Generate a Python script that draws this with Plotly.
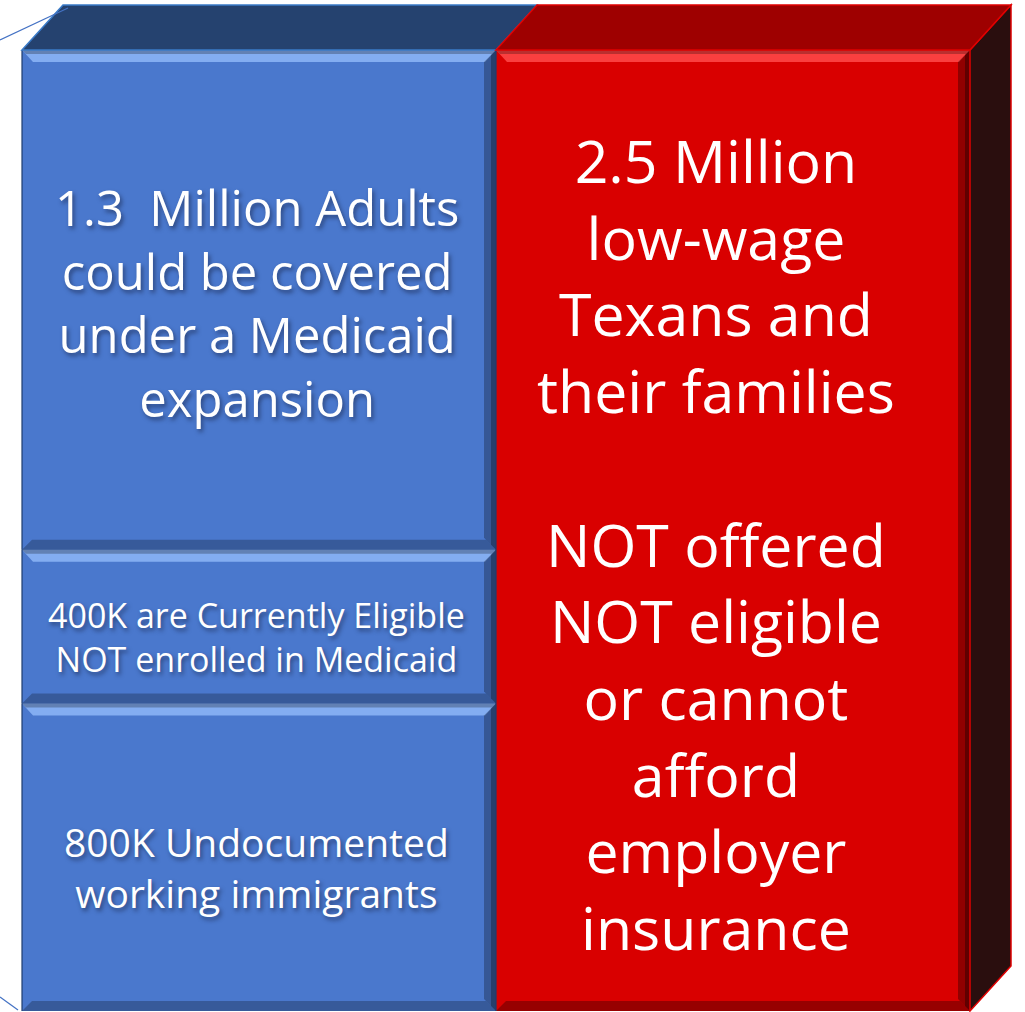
import plotly.graph_objects as go

# Texas uninsured workers: blue stack breaks down the 2.5 million total
categories = [0, 1]
blue_labels = [
    "800K Undocumented<br>working immigrants",
    "400K are Currently Eligible<br>NOT enrolled in Medicaid",
    "1.3  Million Adults<br>could be covered<br>under a Medicaid<br>expansion",
]
blue_values = [0.8, 0.4, 1.3]          # millions
red_label = ("2.5 Million<br>low-wage<br>Texans and<br>their families<br><br>"
             "NOT offered<br>NOT eligible<br>or cannot<br>afford<br>employer<br>insurance")
red_values = [2.5]                      # millions

# ---- page geometry (pixels) ----
W, H = 1025, 1012
PX_X = 474.0            # pixels per category unit
PX_Y = 384.4            # pixels per million
LEFT_PX = 22            # pixel of x = -0.5
BASE_PX = 1011          # pixel of y = 0
x_range = [-0.5 - LEFT_PX / PX_X, -0.5 + (W - LEFT_PX) / PX_X]
y_range = [-(H - BASE_PX) / PX_Y, BASE_PX / PX_Y]

DX = 41 / PX_X          # 3D depth offsets
DY = 45 / PX_Y


def px_x(p):
    return p / PX_X


def px_y(p):
    return p / PX_Y


BLUE = "#4A78CD"
BLUE_TOP = "#25426F"
BLUE_HI = "#8DB6F7"
RED = "#D90000"
RED_TOP = "#9E0000"
RED_SIDE = "#2A0E0E"
RED_HI = "#FF4A4A"

FONT = "Open Sans"

fig = go.Figure()

for v, lab in zip(blue_values, blue_labels):
    fig.add_trace(go.Bar(x=[categories[0]], y=[v], width=1, marker=dict(color=BLUE, line=dict(width=0)),
                         hoverinfo="skip", showlegend=False))
fig.add_trace(go.Bar(x=[categories[1]], y=red_values, width=1, marker=dict(color=RED, line=dict(width=0)),
                     hoverinfo="skip", showlegend=False))

shapes = []


def bevel(xc, y0, y1, hi, dark_alpha=0.45):
    """Beveled edges of one box face: light top strip, dark right and bottom strips."""
    xl, xr = xc - 0.5, xc + 0.5
    t = px_y(12)
    ins = px_x(11)
    # top highlight
    shapes.append(dict(type="path", xref="x", yref="y", layer="above",
                       path=f"M {xl},{y1} L {xr},{y1} L {xr - ins},{y1 - t} L {xl + ins},{y1 - t} Z",
                       fillcolor=hi, opacity=0.85, line=dict(width=0)))
    shapes.append(dict(type="path", xref="x", yref="y", layer="above",
                       path=f"M {xl},{y1} L {xr},{y1} L {xr - px_x(4)},{y1 - px_y(4)} L {xl + px_x(4)},{y1 - px_y(4)} Z",
                       fillcolor="rgba(0,0,0,0.25)", line=dict(width=0)))
    # right shade
    shapes.append(dict(type="path", xref="x", yref="y", layer="above",
                       path=f"M {xr},{y1} L {xr},{y0} L {xr - px_x(12)},{y0 + px_y(12)} L {xr - px_x(12)},{y1 - px_y(12)} Z",
                       fillcolor=f"rgba(0,0,0,{dark_alpha * 0.6})", line=dict(width=0)))
    shapes.append(dict(type="path", xref="x", yref="y", layer="above",
                       path=f"M {xr},{y1} L {xr},{y0} L {xr - px_x(5)},{y0 + px_y(5)} L {xr - px_x(5)},{y1 - px_y(5)} Z",
                       fillcolor=f"rgba(0,0,0,{dark_alpha * 0.6})", line=dict(width=0)))
    # bottom shade
    shapes.append(dict(type="path", xref="x", yref="y", layer="above",
                       path=f"M {xl},{y0} L {xr},{y0} L {xr - px_x(10)},{y0 + px_y(10)} L {xl + px_x(10)},{y0 + px_y(10)} Z",
                       fillcolor=f"rgba(0,0,0,{dark_alpha * 0.55})", line=dict(width=0)))
    # left edge
    shapes.append(dict(type="line", xref="x", yref="y", layer="above",
                       x0=xl, x1=xl, y0=y0, y1=y1, line=dict(color="rgba(30,60,110,0.6)", width=2)))


# blue stack bevels
base = 0.0
for v in blue_values:
    bevel(categories[0], base, base + v, BLUE_HI)
    base += v
blue_total = base
red_total = sum(red_values)
bevel(categories[1], 0.0, red_total, RED_HI, dark_alpha=0.55)

# 3D top of the blue stack
xb = categories[0]
shapes.append(dict(type="path", xref="x", yref="y", layer="above",
                   path=f"M {xb - 0.5},{blue_total} L {xb - 0.5 + DX},{blue_total + DY} "
                        f"L {xb + 0.5 + DX},{blue_total + DY} L {xb + 0.5},{blue_total} Z",
                   fillcolor=BLUE_TOP, line=dict(color="#3A7BC8", width=1.5)))
# 3D top and side of the red bar
xr_ = categories[1]
shapes.append(dict(type="path", xref="x", yref="y", layer="above",
                   path=f"M {xr_ + 0.5},0 L {xr_ + 0.5 + DX},{DY} L {xr_ + 0.5 + DX},{red_total + DY} "
                        f"L {xr_ + 0.5},{red_total} Z",
                   fillcolor=RED_SIDE, line=dict(color="#E00000", width=1.5)))
shapes.append(dict(type="path", xref="x", yref="y", layer="above",
                   path=f"M {xr_ - 0.5},{red_total} L {xr_ - 0.5 + DX},{red_total + DY} "
                        f"L {xr_ + 0.5 + DX},{red_total + DY} L {xr_ + 0.5},{red_total} Z",
                   fillcolor=RED_TOP, line=dict(color="#E00000", width=1.5)))

# floor / wall edges peeking out on the left
shapes.append(dict(type="line", xref="paper", yref="paper", layer="above",
                   x0=0 / W, y0=1 - 40 / H, x1=68 / W, y1=1 - 8 / H,
                   line=dict(color="#4472C4", width=1.2)))
shapes.append(dict(type="line", xref="paper", yref="paper", layer="above",
                   x0=0 / W, y0=1 - 997 / H, x1=18 / W, y1=1 - 1010 / H,
                   line=dict(color="#4472C4", width=1.2)))

annotations = []
blue_sizes = [39, 34, 49]
blue_shifts = [-10, -10, -3]
base = 0.0
for v, lab, fs, sh in zip(blue_values, blue_labels, blue_sizes, blue_shifts):
    annotations.append(dict(x=categories[0] - 0.005, y=base + v / 2, xref="x", yref="y", text=lab,
                            showarrow=False, align="center", yshift=sh,
                            font=dict(family=FONT, size=fs, color="white",
                                      shadow="2px 3px 4px rgba(20,30,60,0.55)")))
    base += v
annotations.append(dict(x=categories[1], y=red_total / 2, xref="x", yref="y", text=red_label,
                        showarrow=False, align="center", yshift=-13, xshift=-17,
                        font=dict(family=FONT, size=59, color="white")))

fig.update_layout(
    width=W, height=H,
    margin=dict(l=0, r=0, t=0, b=0),
    paper_bgcolor="white", plot_bgcolor="white",
    barmode="stack", bargap=0,
    xaxis=dict(range=x_range, visible=False, fixedrange=True),
    yaxis=dict(range=y_range, visible=False, fixedrange=True),
    shapes=shapes, annotations=annotations,
    showlegend=False,
)

fig.write_html("out.html")
